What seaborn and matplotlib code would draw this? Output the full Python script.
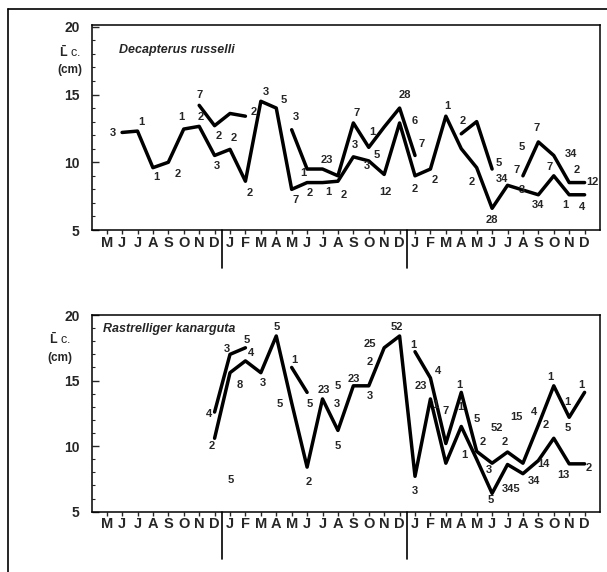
import numpy as np
import pandas as pd
import matplotlib
matplotlib.use('Agg')
import matplotlib.pyplot as plt
from matplotlib.lines import Line2D
import seaborn as sns

nan = np.nan

# month axis: May (year 1) to December (year 3)
months = ['M', 'J', 'J', 'A', 'S', 'O', 'N', 'D',
          'J', 'F', 'M', 'A', 'M', 'J', 'J', 'A', 'S', 'O', 'N', 'D',
          'J', 'F', 'M', 'A', 'M', 'J', 'J', 'A', 'S', 'O', 'N', 'D']
year_breaks = [7.5, 19.5]

# Decapterus russelli, mean length (cm)
dr_main = [nan, 12.2, 12.3, 9.6, 10.0, 12.45, 12.65, 10.5,
           10.95, 8.6, 14.5, 14.0, 8.0, 8.5, 8.5, 8.6, 10.4, 10.1, 9.1, 12.9,
           9.0, 9.5, 13.4, 11.0, 9.6, 6.6, 8.3, 7.95, 7.6, 9.0, 7.6, 7.6]
dr_second = [nan, nan, nan, nan, nan, nan, 14.2, 12.7,
             13.6, 13.4, nan, nan, 12.4, 9.5, 9.5, 9.0, 12.9, 11.1, 12.6, 14.0,
             10.5, nan, nan, 12.1, 13.0, 9.5, nan, 9.0, 11.5, 10.5, 8.5, 8.5]

# sample-size labels (month position, length, text)
dr_lab_x = [0.43, 2.23, 3.2, 4.6, 4.87, 6.0, 6.1, 7.25, 7.14, 8.27, 9.52, 9.3,
            10.32, 11.5, 12.3, 12.23, 12.77, 13.2, 14.3, 14.4, 15.4, 16.23, 16.1,
            17.25, 17.5, 16.9, 18.07, 19.37, 20.0, 20.45, 20.0, 21.3, 22.08, 23.1,
            23.7, 25.43, 25.65, 25.0, 26.95, 26.6, 26.95, 27.9, 28.0, 28.74, 30.1,
            30.5, 31.5, 29.76, 30.84]
dr_lab_y = [12.14, 13.0, 8.93, 9.13, 13.36, 14.96, 13.36, 11.94, 9.75, 11.77, 13.73, 7.75,
            15.2, 14.6, 13.36, 7.2, 9.18, 7.75, 10.2, 7.83, 7.58, 13.6, 11.27,
            12.25, 10.5, 9.75, 7.83, 14.96, 13.07, 11.35, 8.0, 8.7, 14.15, 13.07,
            8.56, 9.92, 8.76, 5.74, 11.15, 9.43, 7.95, 12.5, 6.85, 9.67, 10.6,
            9.43, 8.56, 6.85, 6.72]
dr_lab_t = ['3', '1', '1', '2', '1', '7', '2', '2', '3', '2', '2', '2',
            '3', '5', '3', '7', '1', '2', '23', '1', '2', '7', '3',
            '1', '5', '3', '12', '28', '6', '7', '2', '2', '1', '2',
            '2', '5', '34', '28', '5', '7', '3', '7', '34', '7', '34',
            '2', '12', '1', '4']

# Rastrelliger kanarguta, mean length (cm)
rk_main = [nan, nan, nan, nan, nan, nan, nan, 10.6,
           15.6, 16.5, 15.6, 18.4, 13.3, 8.4, 13.6, 11.2, 14.6, 14.6, 17.5, 18.4,
           7.7, 13.6, 8.7, 11.5, 9.0, 6.4, 8.6, 7.9, 8.9, 10.6, 8.65, 8.65]
rk_second = [nan, nan, nan, nan, nan, nan, nan, 12.6,
             17.0, 17.5, nan, nan, 16.0, 14.1, nan, nan, nan, nan, nan, nan,
             17.2, 15.2, 10.2, 14.1, 9.6, 8.7, 9.55, 8.7, 11.6, 14.6, 12.2, 14.1]

rk_lab_x = [7.8, 9.1, 9.35, 6.66, 8.6, 10.1, 11.0, 6.8, 8.05, 12.16, 11.25, 13.15,
            14.06, 14.97, 14.9, 14.97, 13.1, 16.0, 17.1, 17.05, 17.1, 18.83, 19.9,
            21.5, 20.35, 20.0, 22.0, 22.9, 22.97, 21.3, 24.0, 23.2, 24.4, 25.3, 25.8,
            24.8, 24.9, 26.2, 27.7, 26.6, 27.7, 28.8, 28.5, 29.9, 29.9, 28.35, 29.65,
            31.3, 30.8]
rk_lab_y = [17.4, 18.1, 17.07, 12.46, 14.7, 14.8, 19.05, 10.0, 7.4, 16.6, 13.2, 13.2,
            14.3, 14.6, 13.2, 10.0, 7.3, 15.1, 13.8, 16.4, 17.8, 19.05, 17.7,
            15.75, 14.6, 6.6, 12.7, 14.7, 12.96, 13.1, 12.1, 9.35, 10.35, 11.4, 10.35,
            8.16, 5.9, 6.74, 7.37, 12.26, 12.6, 15.3, 11.6, 11.4, 13.4, 8.66, 7.8,
            8.36, 14.7]
rk_lab_t = ['3', '5', '4', '4', '8', '3', '5', '2', '5', '1', '5', '5',
            '23', '5', '3', '5', '2', '23', '3', '2', '25', '52', '1',
            '4', '23', '3', '7', '1', '1', '1', '5', '1', '2', '52', '2',
            '3', '5', '345', '34', '15', '4', '1', '2', '5', '1', '14', '13',
            '2', '1']

sns.set_style('ticks')
plt.rcParams['font.family'] = ['Liberation Sans', 'DejaVu Sans']
plt.rcParams['mathtext.fontset'] = 'custom'
plt.rcParams['mathtext.rm'] = 'Liberation Sans:bold'


def to_segments(values):
    # split a series at missing months so gaps stay open
    df = pd.DataFrame({'month': np.arange(len(values)), 'length': values})
    df['seg'] = df['length'].isna().cumsum()
    return df.dropna()


def draw_panel(ax, series, lab_x, lab_y, lab_t, title, title_pos, ytop, brk_len):
    for vals in series:
        sns.lineplot(data=to_segments(vals), x='month', y='length', units='seg',
                     estimator=None, color='black', lw=2.5, ax=ax, legend=False)
    for x, y, t in zip(lab_x, lab_y, lab_t):
        ax.text(x, y, t, ha='center', va='center', fontsize=8, fontweight='bold')
    ax.set_xlim(-0.95, 32)
    ax.set_ylim(5, ytop)
    ax.set_xticks(range(len(months)))
    ax.set_xticklabels(months, fontsize=10.5, fontweight='bold')
    ax.set_yticks([5, 10, 15, 20])
    ax.set_yticklabels(['5', '10', '15', '20'], fontsize=10, fontweight='bold')
    ax.set_yticks(np.arange(5, 21, 1), minor=True)
    ax.tick_params(axis='x', direction='out', length=3, width=1, pad=1)
    ax.tick_params(axis='y', which='major', direction='in', length=5, width=1, pad=9)
    ax.tick_params(axis='y', which='minor', direction='in', length=2, width=0.8)
    ax.set_xlabel('')
    ax.set_ylabel('')
    for sp in ax.spines.values():
        sp.set_visible(True)
        sp.set_linewidth(1.1)
        sp.set_color('black')
    for b in year_breaks:
        ax.plot([b, b], [0, -brk_len], color='black', lw=1.2,
                transform=ax.get_xaxis_transform(), clip_on=False)
    ax.text(title_pos[0], title_pos[1], title, transform=ax.transAxes, fontsize=9,
            fontstyle='italic', fontweight='bold', ha='left', va='center')


fig = plt.figure(figsize=(6.07, 5.72), dpi=100)
ax1 = fig.add_axes([0.1516, 0.5979, 0.8369, 0.3584])
ax2 = fig.add_axes([0.1516, 0.1054, 0.8369, 0.3439])

draw_panel(ax1, [dr_main, dr_second], dr_lab_x, dr_lab_y, dr_lab_t,
           'Decapterus russelli', (0.053, 0.88), 20.13, 0.185)
draw_panel(ax2, [rk_main, rk_second], rk_lab_x, rk_lab_y, rk_lab_t,
           'Rastrelliger kanarguta', (0.022, 0.93), 20, 0.24)

# y-axis captions
fig.text(70 / 607, 1 - 52 / 572, r'$\bar{\mathrm{L}}$ c.', fontsize=9, ha='center', va='center')
fig.text(70 / 607, 1 - 70 / 572, '(cm)', fontsize=8.5, fontweight='bold', ha='center', va='center')
fig.text(60 / 607, 1 - 339 / 572, r'$\bar{\mathrm{L}}$ c.', fontsize=9, ha='center', va='center')
fig.text(60 / 607, 1 - 358 / 572, '(cm)', fontsize=8.5, fontweight='bold', ha='center', va='center')

# outer border of the scanned page
fig.add_artist(Line2D([8 / 607, 1.0], [1 - 9 / 572, 1 - 9 / 572], color='black', lw=1.2,
                      transform=fig.transFigure))
fig.add_artist(Line2D([8 / 607, 8 / 607], [0, 1 - 9 / 572], color='black', lw=1.2,
                      transform=fig.transFigure))

fig.savefig('out.png', dpi=100)
plt.close(fig)
